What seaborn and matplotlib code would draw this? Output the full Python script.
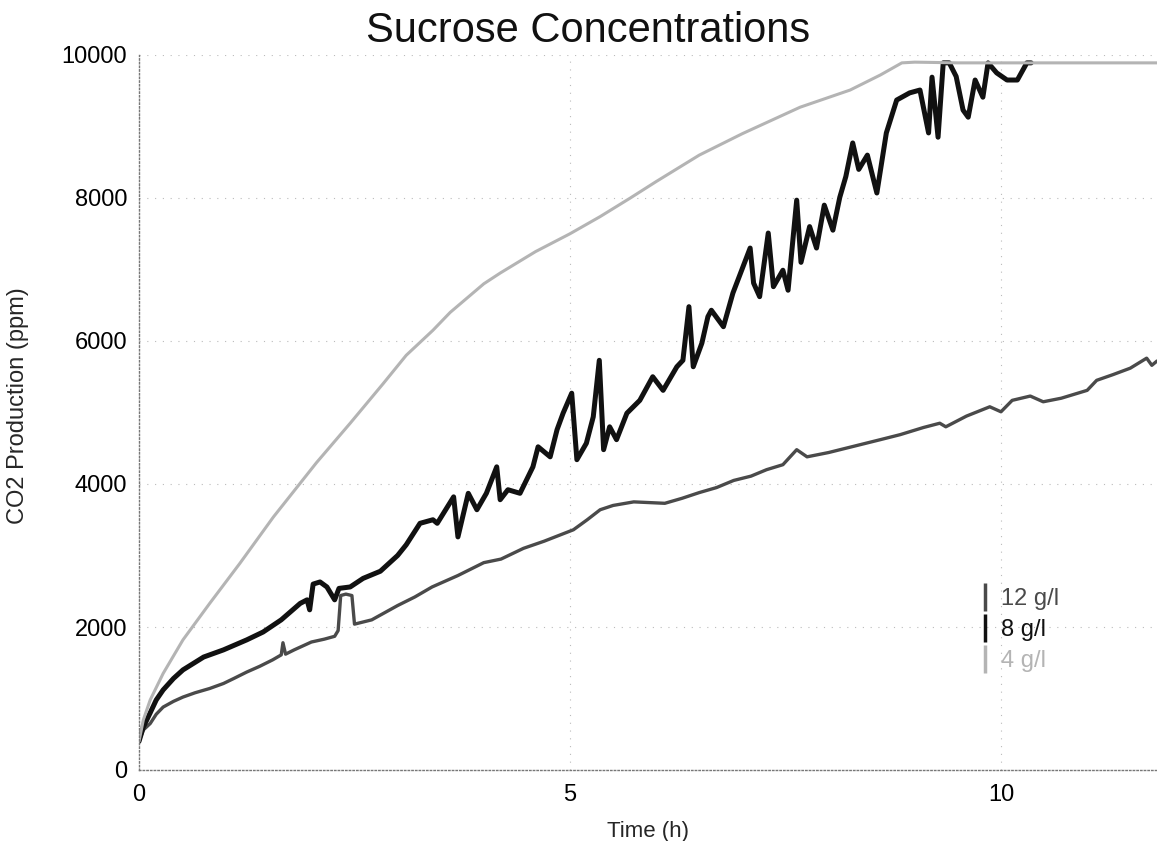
import numpy as np
import pandas as pd
import matplotlib
matplotlib.use("Agg")
import matplotlib.pyplot as plt
import seaborn as sns
from matplotlib.lines import Line2D

# ---- data ----
labels = ["12 g/l", "8 g/l", "4 g/l"]

t12 = [0, 0.05, 0.13, 0.2, 0.28, 0.4, 0.51, 0.65, 0.82, 0.98, 1.1, 1.25, 1.4, 1.55, 1.65, 1.67, 1.7, 1.8,
       2.0, 2.15, 2.27, 2.31, 2.34, 2.4, 2.47, 2.5, 2.7, 3.0, 3.2, 3.4, 3.7, 4.0, 4.2, 4.46, 4.7, 5.04,
       5.2, 5.35, 5.5, 5.74, 6.1, 6.3, 6.5, 6.7, 6.9, 7.1, 7.28, 7.47, 7.63, 7.75, 8.0, 8.3, 8.6, 8.83,
       9.1, 9.29, 9.36, 9.6, 9.87, 10.0, 10.13, 10.34, 10.49, 10.7, 11.0, 11.11, 11.3, 11.5, 11.69,
       11.75, 11.81]
y12 = [400, 560, 650, 780, 880, 960, 1020, 1080, 1140, 1210, 1280, 1370, 1450, 1540, 1610, 1780, 1620, 1680,
       1790, 1830, 1870, 1950, 2440, 2460, 2440, 2040, 2100, 2300, 2420, 2560, 2720, 2900, 2950, 3100, 3200, 3360,
       3500, 3640, 3700, 3750, 3730, 3800, 3880, 3950, 4050, 4110, 4200, 4270, 4480, 4380, 4440, 4530, 4620, 4690,
       4790, 4850, 4800, 4950, 5080, 5010, 5170, 5230, 5150, 5200, 5310, 5450, 5530, 5620, 5760,
       5660, 5720]

t8 = [0, 0.05, 0.13, 0.2, 0.28, 0.4, 0.51, 0.75, 0.98, 1.25, 1.44, 1.65, 1.87, 1.95, 1.98, 2.02, 2.1, 2.18,
      2.27, 2.32, 2.45, 2.6, 2.8, 3.0, 3.1, 3.26, 3.41, 3.46, 3.65, 3.70, 3.82, 3.92, 4.03, 4.15, 4.19,
      4.28, 4.42, 4.57, 4.63, 4.77, 4.85, 4.92, 5.02, 5.08, 5.19, 5.27, 5.34, 5.39, 5.46, 5.54, 5.66,
      5.81, 5.96, 6.08, 6.24, 6.31, 6.38, 6.43, 6.53, 6.60, 6.64, 6.78, 6.89, 7.09, 7.13, 7.20, 7.30,
      7.36, 7.47, 7.53, 7.63, 7.68, 7.78, 7.86, 7.95, 8.05, 8.13, 8.2, 8.28, 8.35, 8.45, 8.56, 8.67,
      8.79, 8.94, 9.06, 9.16, 9.2, 9.27, 9.33, 9.4, 9.48, 9.56, 9.62, 9.7, 9.79, 9.85, 9.95, 10.07,
      10.19, 10.3, 10.35]
y8 = [400, 600, 800, 980, 1120, 1280, 1400, 1580, 1680, 1820, 1930, 2100, 2330, 2380, 2240, 2600, 2630, 2560,
      2380, 2540, 2560, 2680, 2780, 3000, 3150, 3450, 3500, 3450, 3820, 3260, 3870, 3640, 3870, 4240, 3780,
      3920, 3870, 4240, 4520, 4380, 4760, 4990, 5270, 4340, 4570, 4940, 5730, 4480, 4800, 4620, 4990,
      5170, 5500, 5310, 5640, 5730, 6480, 5640, 5970, 6340, 6430, 6200, 6670, 7300, 6810, 6620, 7510,
      6760, 6990, 6710, 7970, 7100, 7600, 7300, 7900, 7550, 8010, 8300, 8770, 8400, 8600, 8070, 8910,
      9370, 9470, 9510, 8910, 9690, 8850, 9890, 9890, 9700, 9230, 9130, 9650, 9410, 9890, 9750, 9650,
      9650, 9890, 9890]

t4 = [0, 0.05, 0.13, 0.28, 0.51, 0.82, 1.17, 1.56, 2.06, 2.45, 2.83, 3.1, 3.41, 3.61, 4.0, 4.19, 4.6, 5.0,
      5.35, 5.7, 6.0, 6.5, 7.0, 7.67, 8.25, 8.6, 8.85, 9.0, 9.5, 10.0, 10.5, 11.0, 11.81]
y4 = [400, 700, 980, 1350, 1820, 2330, 2890, 3540, 4300, 4850, 5400, 5800, 6150, 6400, 6800, 6950, 7250, 7500,
      7740, 8000, 8230, 8600, 8900, 9270, 9510, 9720, 9890, 9900, 9890, 9890, 9890, 9890, 9890]

colors = {"12 g/l": "#4a4a4a", "8 g/l": "#111111", "4 g/l": "#b4b4b4"}
widths = {"12 g/l": 2.4, "8 g/l": 3.6, "4 g/l": 2.2}

df = pd.concat([
    pd.DataFrame({"Time (h)": t12, "CO2": y12, "conc": "12 g/l"}),
    pd.DataFrame({"Time (h)": t8, "CO2": y8, "conc": "8 g/l"}),
    pd.DataFrame({"Time (h)": t4, "CO2": y4, "conc": "4 g/l"}),
])

sns.set_style("white")
plt.rcParams["font.family"] = ["Liberation Sans", "DejaVu Sans"]

fig = plt.figure(figsize=(11.57, 8.41), dpi=100)
ax = fig.add_axes([139 / 1157, 1 - 770 / 841, (1157 - 139) / 1157, (770 - 55) / 841])

for lab in labels:
    sns.lineplot(data=df[df["conc"] == lab], x="Time (h)", y="CO2", ax=ax,
                 color=colors[lab], linewidth=widths[lab], estimator=None, sort=False,
                 legend=False)

ax.set_xlim(0, 11.81)
ax.set_ylim(0, 10000)
ax.set_xticks([0, 5, 10])
ax.set_xticks([1, 2, 3, 4, 6, 7, 8, 9, 11], minor=True)
ax.set_yticks([0, 2000, 4000, 6000, 8000, 10000])
ax.tick_params(axis="both", labelsize=17, colors="#444444", labelcolor="black",
               length=5, width=0.8, direction="out")
ax.tick_params(axis="x", which="minor", length=3, width=0.6, direction="in")
ax.tick_params(axis="x", pad=5)

ax.grid(True, linestyle=(0, (1, 6)), color="#bbbbbb", linewidth=0.8)
for s in ["top", "right"]:
    ax.spines[s].set_visible(False)
for s in ["left", "bottom"]:
    ax.spines[s].set_linestyle(":")
    ax.spines[s].set_color("#777777")
    ax.spines[s].set_linewidth(1.0)

ax.set_xlabel("Time (h)", fontsize=16)
ax.set_ylabel("CO2 Production (ppm)", fontsize=17)
ax.xaxis.set_label_coords(0.5, -0.072)
ax.yaxis.label.set_va("center")
ax.yaxis.set_label_coords(-0.119, 0.51)

fig.text(588 / 1157, 1 - 31 / 841, "Sucrose Concentrations", fontsize=30,
         ha="center", va="center", color="#111111")

handles = [Line2D([0], [0], color=colors[l], marker="|", markersize=20, markeredgewidth=2.5,
                  linestyle="none") for l in labels]
leg = ax.legend(handles, labels, loc="upper left", bbox_to_anchor=(0.81, 0.268),
                frameon=False, fontsize=17, handlelength=1.0, handletextpad=0.2,
                labelspacing=0.38, borderaxespad=0)
for txt, l in zip(leg.get_texts(), labels):
    txt.set_color(colors[l])

fig.savefig("out.png", dpi=100)
